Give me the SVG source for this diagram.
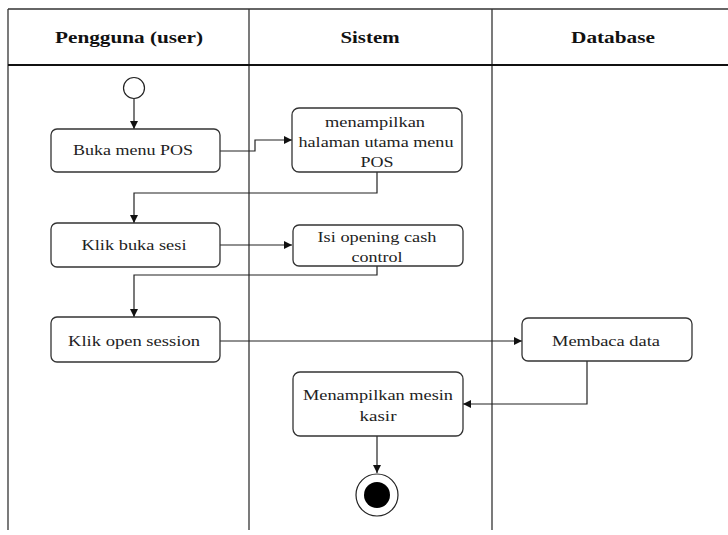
<svg xmlns="http://www.w3.org/2000/svg" width="728" height="535" viewBox="0 0 728 535">
  <style>
    .lane { stroke: #333; stroke-width: 1.3; fill: none; }
    .head { font-family: "Liberation Serif", "Times New Roman", serif; font-size: 17px; font-weight: bold; fill: #111; text-anchor: middle; }
    .box { fill: #fff; stroke: #333; stroke-width: 1.3; }
    .lbl { font-family: "Liberation Serif", "Times New Roman", serif; font-size: 14px; fill: #222; text-anchor: middle; }
    .edge { stroke: #222; stroke-width: 1.2; fill: none; marker-end: url(#arr); }
  </style>
  <defs>
    <marker id="arr" viewBox="0 0 10 10" refX="10" refY="5" markerWidth="8" markerHeight="8" markerUnits="userSpaceOnUse" orient="auto">
      <path d="M0,0 L10,5 L0,10 z" fill="#111"/>
    </marker>
  </defs>
  <rect width="728" height="535" fill="#fff"/>

  <!-- swimlane frame -->
  <g id="lanes">
    <line class="lane" x1="8" y1="9" x2="728" y2="9"/>
    <line class="lane" x1="8" y1="9" x2="8" y2="530"/>
    <line class="lane" x1="249" y1="9" x2="249" y2="530"/>
    <line class="lane" x1="492" y1="9" x2="492" y2="530"/>
    <line x1="8" y1="65" x2="728" y2="65" stroke="#111" stroke-width="2.2"/>
    <text class="head" x="129" y="43" textLength="148" lengthAdjust="spacingAndGlyphs">Pengguna (user)</text>
    <text class="head" x="370" y="43" textLength="59" lengthAdjust="spacingAndGlyphs">Sistem</text>
    <text class="head" x="613" y="43" textLength="84" lengthAdjust="spacingAndGlyphs">Database</text>
  </g>

  <!-- connectors -->
  <g id="connectors">
    <path class="edge" d="M134,99 V129"/>
    <path class="edge" d="M220,151 H255 V140 H292"/>
    <path class="edge" d="M377,172 V193 H134 V223"/>
    <path class="edge" d="M220,245 H292"/>
    <path class="edge" d="M377,266 V275 H134 V317"/>
    <path class="edge" d="M220,341 H522"/>
    <path class="edge" d="M587,361 V404 H463"/>
    <path class="edge" d="M377,436 V473"/>
  </g>

  <g id="start">
    <circle cx="134" cy="88" r="10.5" fill="#fff" stroke="#222" stroke-width="1.2"/>
  </g>

  <g id="buka-menu">
    <rect class="box" x="51" y="129" width="169" height="43" rx="6"/>
    <text class="lbl" x="133" y="155" textLength="120" lengthAdjust="spacingAndGlyphs">Buka menu POS</text>
  </g>

  <g id="tampil-halaman">
    <rect class="box" x="292" y="108" width="170" height="64" rx="7"/>
    <text class="lbl" x="375" y="127" textLength="100" lengthAdjust="spacingAndGlyphs">menampilkan</text>
    <text class="lbl" x="376" y="147" textLength="155" lengthAdjust="spacingAndGlyphs">halaman utama menu</text>
    <text class="lbl" x="377" y="167" textLength="33" lengthAdjust="spacingAndGlyphs">POS</text>
  </g>

  <g id="buka-sesi">
    <rect class="box" x="51" y="223" width="169" height="44" rx="6"/>
    <text class="lbl" x="134" y="250" textLength="105" lengthAdjust="spacingAndGlyphs">Klik buka sesi</text>
  </g>

  <g id="opening-cash">
    <rect class="box" x="293" y="225" width="170" height="41" rx="6"/>
    <text class="lbl" x="377" y="242" textLength="119" lengthAdjust="spacingAndGlyphs">Isi opening cash</text>
    <text class="lbl" x="377" y="262" textLength="51" lengthAdjust="spacingAndGlyphs">control</text>
  </g>

  <g id="open-session">
    <rect class="box" x="51" y="317" width="169" height="45" rx="6"/>
    <text class="lbl" x="134" y="346" textLength="132" lengthAdjust="spacingAndGlyphs">Klik open session</text>
  </g>

  <g id="baca-data">
    <rect class="box" x="522" y="318" width="170" height="43" rx="6"/>
    <text class="lbl" x="606" y="346" textLength="108" lengthAdjust="spacingAndGlyphs">Membaca data</text>
  </g>

  <g id="mesin-kasir">
    <rect class="box" x="293" y="372" width="170" height="64" rx="7"/>
    <text class="lbl" x="378" y="400" textLength="150" lengthAdjust="spacingAndGlyphs">Menampilkan mesin</text>
    <text class="lbl" x="378" y="421" textLength="37" lengthAdjust="spacingAndGlyphs">kasir</text>
  </g>

  <g id="end">
    <circle cx="377" cy="495" r="21" fill="#fff" stroke="#222" stroke-width="1.2"/>
    <circle cx="377" cy="495" r="13" fill="#000"/>
  </g>
</svg>
